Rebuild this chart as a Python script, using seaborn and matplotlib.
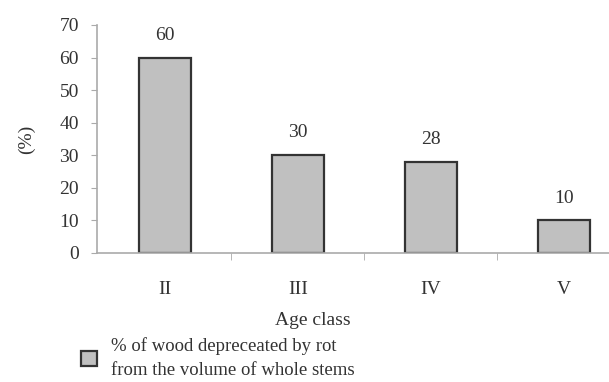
import matplotlib
matplotlib.use("Agg")
import matplotlib.pyplot as plt
import seaborn as sns
from matplotlib.ticker import FixedLocator

age_classes = ["II", "III", "IV", "V"]
rot_pct = [60, 30, 28, 10]
legend_label = "% of wood depreceated by rot\nfrom the volume of whole stems"

sns.set_style("white")
plt.rcParams["font.family"] = ["Liberation Serif", "DejaVu Serif"]
plt.rcParams["text.color"] = "#333333"

fig = plt.figure(figsize=(6.09, 3.82), dpi=100)
ax = fig.add_axes([0.159, 0.3377, 0.841, 0.597])

sns.barplot(x=age_classes, y=rot_pct, color="#c0c0c0", saturation=1,
            edgecolor="#333333", linewidth=1.6, width=0.39, ax=ax,
            label=legend_label)

ax.bar_label(ax.containers[0], fmt="%d", padding=10, fontsize=14, color="#333333")

ax.set_ylim(0, 70)
ax.set_yticks(range(0, 71, 10))
ax.set_xlim(-0.51, 3.34)

for side in ["top", "right"]:
    ax.spines[side].set_visible(False)
for side in ["left", "bottom"]:
    ax.spines[side].set_color("#aaaaaa")
    ax.spines[side].set_linewidth(1.2)

ax.tick_params(axis="y", direction="out", length=4, color="#aaaaaa",
               labelsize=14, labelcolor="#333333", left=True, pad=9)
ax.tick_params(axis="x", which="major", length=0, labelsize=14,
               labelcolor="#333333", pad=20)
ax.xaxis.set_minor_locator(FixedLocator([0.5, 1.5, 2.5]))
ax.tick_params(axis="x", which="minor", direction="out", length=5,
               color="#aaaaaa", bottom=True)

ax.set_ylabel("(%)", fontsize=14, color="#333333")
ax.yaxis.set_label_coords(-0.12, 0.5)
ax.set_xlabel("Age class", fontsize=14, color="#333333")
ax.xaxis.set_label_coords((313 - 97) / 512, -0.26)

leg = ax.legend(loc="upper left", bbox_to_anchor=(0.117, 0.142),
                bbox_transform=fig.transFigure, frameon=False, fontsize=13.5,
                handlelength=0.85, handleheight=0.85, handletextpad=0.75,
                borderpad=0, labelspacing=0.2)
leg.get_texts()[0].set_linespacing(1.55)

fig.savefig("out.png", dpi=100)
